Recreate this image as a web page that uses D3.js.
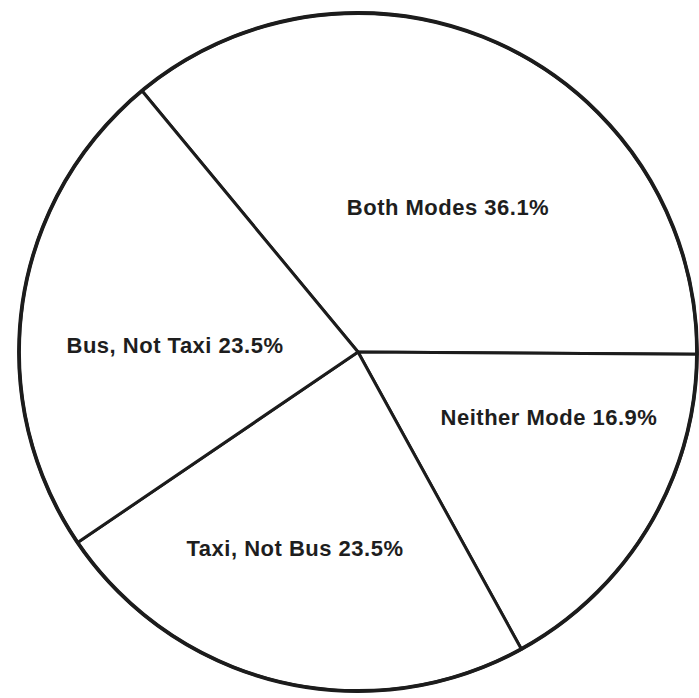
<!DOCTYPE html>
<html>
<head>
<meta charset="utf-8">
<script src="https://cdn.jsdelivr.net/npm/d3@7"></script>
<style>
  html, body { margin: 0; padding: 0; background: #ffffff; }
  svg { display: block; }
</style>
</head>
<body>
<svg id="chart" width="699" height="698"></svg>
<script>
// Share of respondents by transit mode used (percent)
const categories = ["Both Modes", "Neither Mode", "Taxi, Not Bus", "Bus, Not Taxi"];
const shares = [36.1, 16.9, 23.5, 23.5];

// Layout: pie geometry and label anchors (text middle, baseline)
const cx = 358, cy = 352, radius = 339;
const startDeg = -39.6;
const labelAnchors = [[448, 215], [549, 425], [295, 556], [175, 353]];

const svg = d3.select("#chart");
const g = svg.append("g").attr("transform", `translate(${cx},${cy})`);

const pie = d3.pie()
  .sort(null)
  .value(d => d.value)
  .startAngle(startDeg * Math.PI / 180)
  .endAngle((startDeg + 360) * Math.PI / 180);

const arc = d3.arc().innerRadius(0).outerRadius(radius);

const rows = categories.map((c, i) => ({ name: c, value: shares[i] }));
const arcs = pie(rows);

// Slices with their radial edges
g.selectAll("path.slice")
  .data(arcs)
  .join("path")
  .attr("class", "slice")
  .attr("d", arc)
  .attr("fill", "#ffffff")
  .attr("stroke", "#1c1c1c")
  .attr("stroke-width", 3)
  .attr("stroke-linejoin", "round");

// Heavier outer rim
g.append("circle")
  .attr("r", radius)
  .attr("fill", "none")
  .attr("stroke", "#1c1c1c")
  .attr("stroke-width", 3.8);

// Slice labels
svg.selectAll("text.label")
  .data(arcs)
  .join("text")
  .attr("class", "label")
  .attr("x", (d, i) => labelAnchors[i][0])
  .attr("y", (d, i) => labelAnchors[i][1])
  .attr("text-anchor", "middle")
  .attr("font-family", "'Liberation Sans', Arial, Helvetica, sans-serif")
  .attr("font-weight", "bold")
  .attr("font-size", 22)
  .attr("letter-spacing", "0.5px")
  .attr("fill", "#1e1e1e")
  .text(d => `${d.data.name} ${d.data.value.toFixed(1)}%`);
</script>
</body>
</html>
